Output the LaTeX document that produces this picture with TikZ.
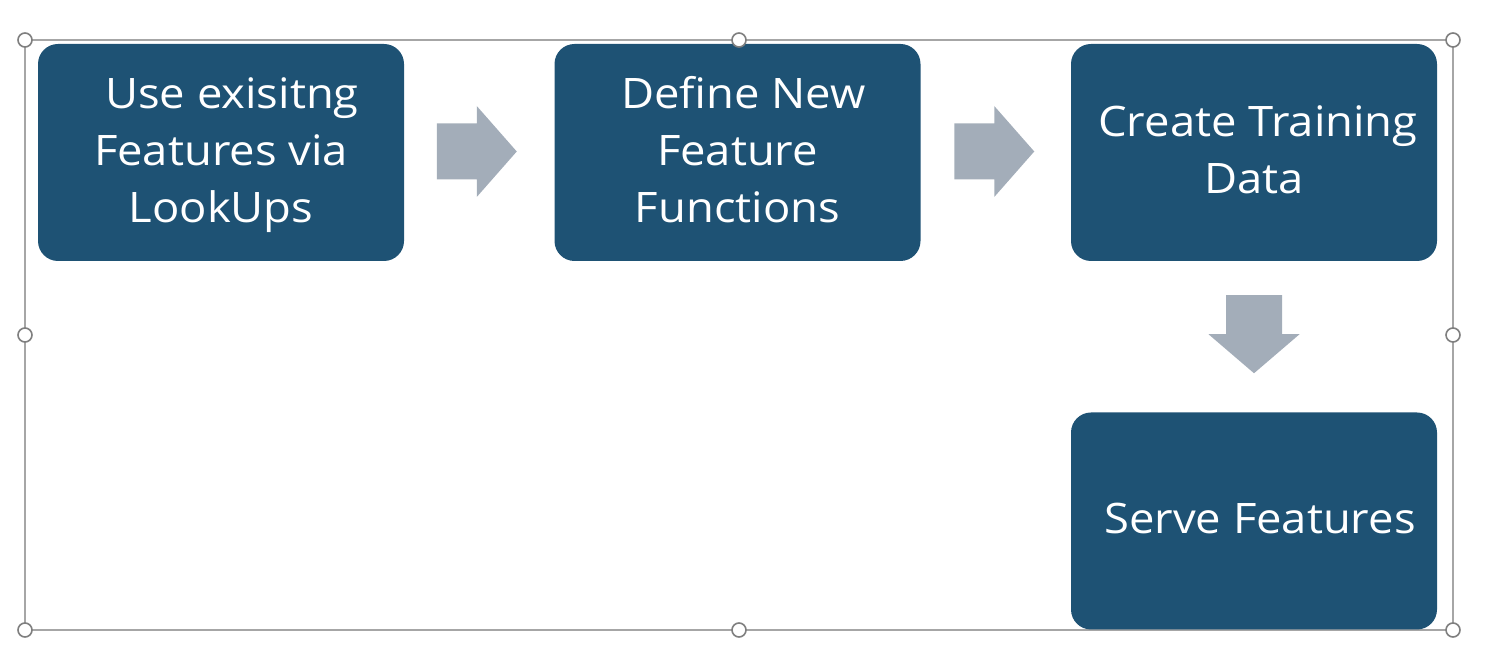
\documentclass[tikz,border=0pt]{standalone}
\usepackage{fontspec}
\setmainfont{Open Sans}[FakeStretch=1.08]
\usetikzlibrary{calc}
\definecolor{boxblue}{HTML}{1E5274}
\definecolor{arrowgray}{HTML}{A3ADB9}
\definecolor{framegray}{HTML}{A6A6A6}
\definecolor{handlegray}{HTML}{7F7F7F}
\newcommand{\lstrut}{\rule[-7.75pt]{0pt}{28.5pt}}
\tikzset{
  stepbox/.style={fill=boxblue, draw=none, rounded corners=10pt, inner sep=0pt,
    minimum width=183pt, minimum height=108.5pt, text=white, align=center,
    font=\fontsize{21pt}{28.5pt}\selectfont},
  blockarrow/.style={fill=arrowgray, draw=none},
  selframe/.style={draw=framegray, line width=1pt},
  handle/.style={circle, fill=white, draw=handlegray, line width=0.8pt, inner sep=0pt, minimum size=7pt}
}
\begin{document}
\begin{tikzpicture}[x=0.5pt, y=-0.5pt]
\useasboundingbox (0,0) rectangle (1511,656);
% selection frame
\coordinate (f1) at (25,40);
\coordinate (f2) at (1453,40);
\coordinate (f3) at (1453,630);
\coordinate (f4) at (25,630);
\draw[selframe] (f1) -- (f2) -- (f3) -- (f4) -- cycle;
% boxes
\node[stepbox] (b1) at (221,152.5) {\lstrut\hspace*{11pt}Use exisitng\\\lstrut Features via\\\lstrut LookUps};
\node[stepbox] (b2) at (737.5,152.5) {\lstrut\hspace*{6pt}Define New\\\lstrut Feature\\\lstrut Functions};
\node[stepbox] (b3) at (1254,152.5) {\lstrut\hspace*{4pt}Create Training\\\lstrut Data};
\node[stepbox] (b4) at (1254,521) {\lstrut\hspace*{6pt}Serve Features};
% block arrows
\coordinate (c12) at ($(b1.east)!0.5!(b2.west)+(-2.5,-1)$);
\coordinate (c23) at ($(b2.east)!0.5!(b3.west)+(-1.5,-1)$);
\coordinate (c34) at ($(b3.south)!0.5!(b4.north)+(0,-2.5)$);
\fill[blockarrow] (c12) ++(-40,-28) -- ++(40,0) -- ++(0,-17.5) -- ++(40,45.5) -- ++(-40,45.5) -- ++(0,-17.5) -- ++(-40,0) -- cycle;
\fill[blockarrow] (c23) ++(-40,-28) -- ++(40,0) -- ++(0,-17.5) -- ++(40,45.5) -- ++(-40,45.5) -- ++(0,-17.5) -- ++(-40,0) -- cycle;
\fill[blockarrow] (c34) ++(-28,-39) -- ++(0,39) -- ++(-17.5,0) -- ++(45.5,39) -- ++(45.5,-39) -- ++(-17.5,0) -- ++(0,-39) -- cycle;
% selection handles
\node[handle] (h1) at (25,40) {};
\node[handle] (h2) at (739,40) {};
\node[handle] (h3) at (1453,40) {};
\node[handle] (h4) at (25,335) {};
\node[handle] (h5) at (1453,335) {};
\node[handle] (h6) at (25,630) {};
\node[handle] (h7) at (739,630) {};
\node[handle] (h8) at (1453,630) {};
\end{tikzpicture}
\end{document}
